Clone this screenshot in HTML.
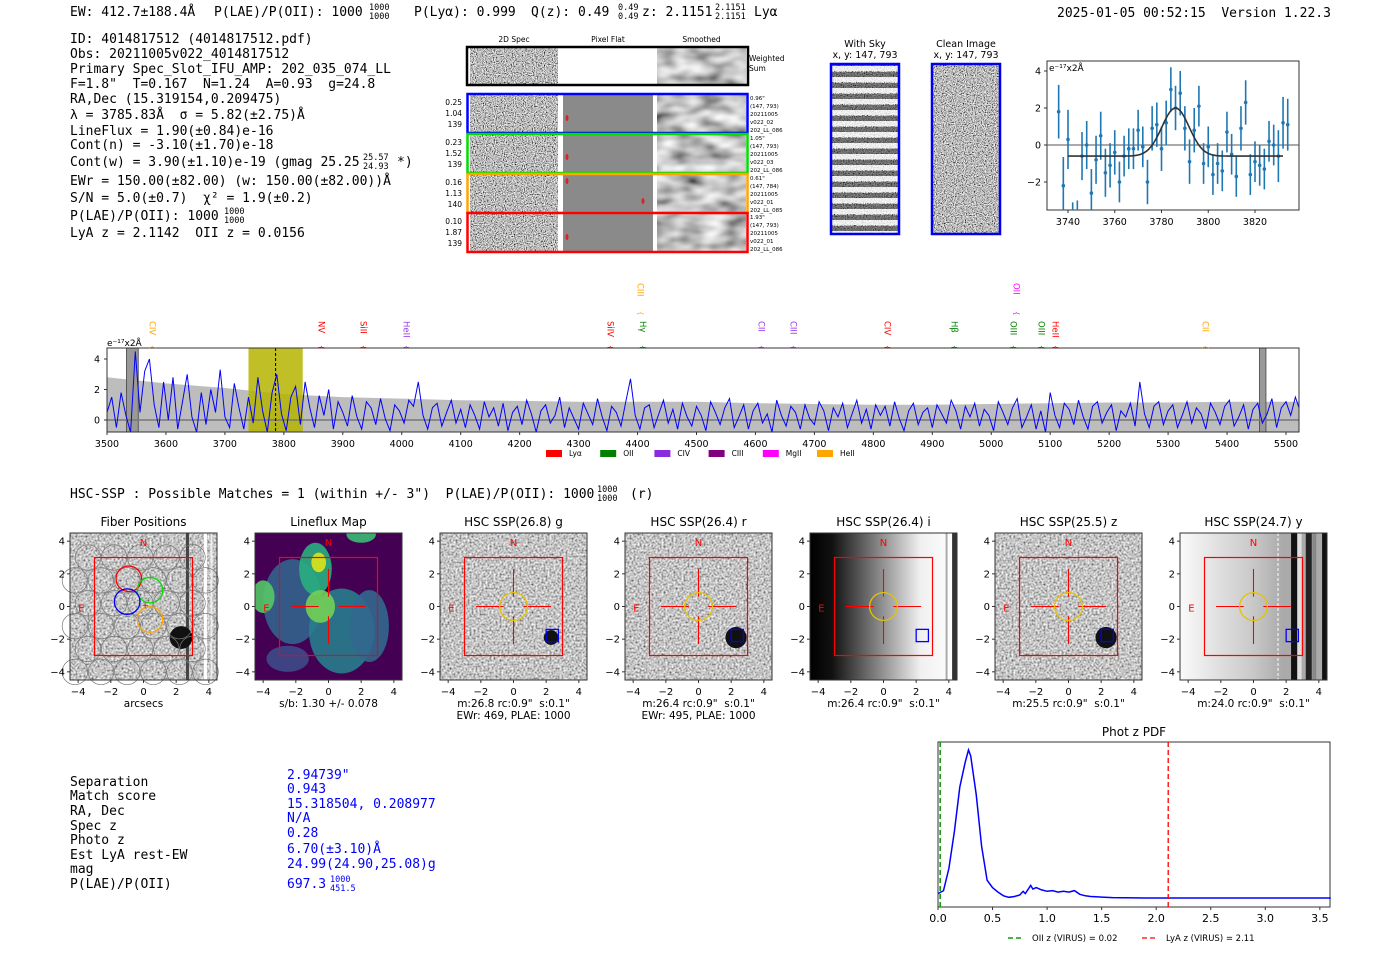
<!DOCTYPE html>
<html><head><meta charset="utf-8"><title>Detection report</title>
<style>
html,body{margin:0;padding:0;background:#fff;width:1400px;height:953px;overflow:hidden}
svg{display:block}
text{white-space:pre}
.mono{font-family:"DejaVu Sans Mono","Liberation Mono",monospace}
.sans{font-family:"DejaVu Sans","Liberation Sans",sans-serif}
</style></head>
<body>
<svg id="fig" width="1400" height="953" viewBox="0 0 1400 953" xmlns="http://www.w3.org/2000/svg" xml:space="preserve">
<defs>
<filter id="noise" x="0" y="0" width="100%" height="100%"><feTurbulence type="fractalNoise" baseFrequency="0.9" numOctaves="1" seed="4"/><feColorMatrix type="matrix" values="2.2 0 0 0 -0.6 2.2 0 0 0 -0.6 2.2 0 0 0 -0.6 0 0 0 0 1"/></filter>
<filter id="noise2" x="0" y="0" width="100%" height="100%"><feTurbulence type="fractalNoise" baseFrequency="0.5" numOctaves="1" seed="9"/><feColorMatrix type="matrix" values="1.4 0 0 0 -0.15 1.4 0 0 0 -0.15 1.4 0 0 0 -0.15 0 0 0 0 1"/></filter>
<filter id="smooth" x="0" y="0" width="100%" height="100%"><feTurbulence type="fractalNoise" baseFrequency="0.04 0.08" numOctaves="2" seed="2"/><feColorMatrix type="matrix" values="1.3 0 0 0 -0.1 1.3 0 0 0 -0.1 1.3 0 0 0 -0.1 0 0 0 0 1"/></filter>
<pattern id="sky" width="10" height="11" patternUnits="userSpaceOnUse"><rect width="10" height="5" fill="#fff" opacity="0.75"/><rect y="6" width="10" height="5" fill="#222" opacity="0.5"/></pattern>
<linearGradient id="gradI" x1="0" x2="1"><stop offset="0" stop-color="#000"/><stop offset="0.15" stop-color="#111"/><stop offset="0.75" stop-color="#f0f0f0"/><stop offset="1" stop-color="#fff"/></linearGradient>
<linearGradient id="gradY" x1="0" x2="1"><stop offset="0" stop-color="#fafafa"/><stop offset="0.5" stop-color="#c8c8c8"/><stop offset="0.7" stop-color="#aaa"/></linearGradient>
<clipPath id="clipSpec"><rect x="107" y="348" width="1192" height="84"/></clipPath>
<clipPath id="clipFit"><rect x="1047" y="61" width="252" height="149"/></clipPath>
<clipPath id="clipLF"><rect x="255" y="533" width="147" height="147"/></clipPath>
</defs>

<!-- header -->
<g class="mono" font-size="13" fill="#000">
<text x="70" y="16">EW: 412.7±188.4Å</text>
<text x="214" y="16">P(LAE)/P(OII): 1000</text>
<text x="369" y="10" font-size="8.5">1000</text>
<text x="369" y="19" font-size="8.5">1000</text>
<text x="414" y="16">P(Lyα): 0.999</text>
<text x="531" y="16">Q(z): 0.49</text>
<text x="618" y="10" font-size="8.5">0.49</text>
<text x="618" y="19" font-size="8.5">0.49</text>
<text x="642" y="16">z: 2.1151</text>
<text x="715" y="10" font-size="8.5">2.1151</text>
<text x="715" y="19" font-size="8.5">2.1151</text>
<text x="754" y="16">Lyα</text>
<text x="1057" y="17">2025-01-05 00:52:15  Version 1.22.3</text>
</g>

<!-- info block -->
<g class="mono" font-size="13" fill="#000">
<text x="70" y="43">ID: 4014817512 (4014817512.pdf)</text>
<text x="70" y="58">Obs: 20211005v022_4014817512</text>
<text x="70" y="73">Primary Spec_Slot_IFU_AMP: 202_035_074_LL</text>
<text x="70" y="88">F=1.8"  T=0.167  N=1.24  A=0.93  g=24.8</text>
<text x="70" y="103">RA,Dec (15.319154,0.209475)</text>
<text x="70" y="119">λ = 3785.83Å  σ = 5.82(±2.75)Å</text>
<text x="70" y="135">LineFlux = 1.90(±0.84)e-16</text>
<text x="70" y="149">Cont(n) = -3.10(±1.70)e-18</text>
<text x="70" y="166">Cont(w) = 3.90(±1.10)e-19 (gmag 25.25</text>
<text x="363" y="160" font-size="8.5">25.57</text>
<text x="363" y="169" font-size="8.5">24.93</text>
<text x="397" y="166">*)</text>
<text x="70" y="185">EWr = 150.00(±82.00) (w: 150.00(±82.00))Å</text>
<text x="70" y="202">S/N = 5.0(±0.7)  χ² = 1.9(±0.2)</text>
<text x="70" y="220">P(LAE)/P(OII): 1000</text>
<text x="224" y="214" font-size="8.5">1000</text>
<text x="224" y="223" font-size="8.5">1000</text>
<text x="70" y="237">LyA z = 2.1142  OII z = 0.0156</text>
</g>

<g id="g2d"></g>
<g id="gcut"></g>
<g id="gfit"></g>
<g id="gspec"></g>

<text class="mono" x="70" y="498" font-size="13">HSC-SSP : Possible Matches = 1 (within +/- 3")  P(LAE)/P(OII): 1000</text>
<text class="mono" x="597" y="492" font-size="8.5">1000</text>
<text class="mono" x="597" y="501" font-size="8.5">1000</text>
<text class="mono" x="630" y="498" font-size="13">(r)</text>

<g id="gthumb"></g>

<g class="mono" font-size="13">
<text x="70" y="786">Separation</text>
<text x="70" y="800">Match score</text>
<text x="70" y="815">RA, Dec</text>
<text x="70" y="830">Spec z</text>
<text x="70" y="844">Photo z</text>
<text x="70" y="859">Est LyA rest-EW</text>
<text x="70" y="873">mag</text>
<text x="70" y="888">P(LAE)/P(OII)</text>
<g fill="#0000ff">
<text x="287" y="779">2.94739"</text>
<text x="287" y="793">0.943</text>
<text x="287" y="808">15.318504, 0.208977</text>
<text x="287" y="822">N/A</text>
<text x="287" y="837">0.28</text>
<text x="287" y="853">6.70(±3.10)Å</text>
<text x="287" y="868">24.99(24.90,25.08)g</text>
<text x="287" y="888">697.3</text>
<text x="330" y="882" font-size="8.5">1000</text>
<text x="330" y="891" font-size="8.5">451.5</text>
</g></g>

<g id="gpdf"></g>
</svg>

<script>
// ---------- data ----------
const specStart = 3500;
const specStep = 8;
const specFlux = [
0.5,1.5,-0.5,1.8,0.3,-0.8,4.5,0.5,3.2,4.0,1.0,-0.5,2.5,0.0,2.8,-0.6,1.2,3.0,0.2,-0.8,1.8,-0.3,2.0,0.5,3.3,
0.2,-0.5,2.4,0.8,-0.6,1.5,-0.2,2.8,0.6,-0.8,1.8,3.0,0.4,-0.7,1.5,2.2,-0.3,2.5,0.8,-0.5,1.6,0.3,2.0,-0.6,1.2,
0.5,-0.4,1.6,0.2,-0.6,1.2,0.8,-0.3,1.4,0.1,-0.7,1.0,0.6,-0.2,1.3,0.9,2.5,0.3,-0.6,0.8,1.1,-0.4,0.5,1.3,-0.2,
0.7,-0.5,1.0,0.3,-0.6,1.2,0.2,0.8,-0.4,1.1,-0.7,0.5,0.9,-0.3,1.3,0.4,-0.8,0.6,1.0,-0.2,0.3,1.5,-0.5,0.8,0.1,
-0.6,1.1,0.4,-0.3,1.4,0.2,-0.7,0.9,0.5,-0.4,1.2,2.7,0.3,-0.6,0.8,1.0,-0.5,0.4,1.3,-0.2,0.7,-0.6,1.1,0.2,-0.4,
0.9,0.3,-0.7,1.2,0.5,-0.3,0.8,1.4,-0.5,0.2,1.0,-0.6,0.6,1.1,-0.2,0.4,-0.8,1.3,0.3,-0.4,0.9,0.5,-0.6,1.0,0.1,
-0.3,1.2,0.6,-0.7,0.8,0.2,1.1,-0.5,0.4,1.3,-0.2,0.7,-0.6,1.0,0.3,0.9,-0.4,1.2,0.1,-0.7,0.6,1.1,-0.3,0.5,0.8,
-0.5,1.0,0.4,-0.2,1.3,0.6,-0.6,0.9,0.2,1.1,-0.4,0.7,0.3,-0.7,1.2,0.5,-0.3,0.8,1.4,-0.5,0.2,1.0,-0.6,0.6,-0.8,
1.8,0.3,-0.5,1.1,0.7,-0.3,1.3,0.2,-0.6,0.9,1.2,-0.2,0.5,1.0,-0.7,0.6,0.2,1.1,-0.4,2.5,0.4,-0.5,0.9,1.2,-0.3,
0.6,1.0,-0.5,0.3,1.2,-0.2,0.8,0.4,-0.6,1.1,0.5,-0.3,0.9,1.3,-0.4,0.2,1.0,-0.6,0.7,1.1,-0.2,0.4,1.4,-0.5,0.8,
1.2,0.3,1.5,0.6];
const errWave = [3500,3600,3700,3800,3900,4000,4100,4200,4300,4400,4500,4600,4700,4800,4900,5000,5100,5200,5300,5400,5500,5530];
const errFlux = [2.8,2.4,2.1,1.7,1.5,1.4,1.3,1.25,1.2,1.2,1.2,1.1,1.05,1.0,1.0,1.05,1.1,1.15,1.15,1.2,1.2,1.2];
const specTicks = [3500,3600,3700,3800,3900,4000,4100,4200,4300,4400,4500,4600,4700,4800,4900,5000,5100,5200,5300,5400,5500];
const lineNames = ["CIV","NV","SiII","HeII","SiIV","CIII","Hγ","CII","CIII","CIV","Hβ","OIII","OII","OIII","HeII","CII"];
const lineWaves = [3576,3863,3934,4007,4353,4404,4408,4609,4664,4823,4937,5037,5042,5084,5108,5363];
const lineColors = ["orange","red","red","#9933ee","red","orange","green","#9933ee","#9933ee","red","green","green","magenta","green","red","orange"];
const lineHigh = [0,0,0,0,0,1,0,0,0,0,0,0,1,0,0,0];
const legendNames = ["Lyα","OII","CIV","CIII","MgII","HeII"];
const legendColors = ["red","green","#8a2be2","purple","magenta","orange"];

const fitWave = [3736,3738,3740,3742,3744,3746,3748,3750,3752,3754,3756,3758,3760,3762,3764,3766,3768,3770,3772,3774,3776,3778,3780,3782,3784,3786,3788,3790,3792,3794,3796,3798,3800,3802,3804,3806,3808,3810,3812,3814,3816,3818,3820,3822,3824,3826,3828,3830,3832,3834];
const fitFlux = [1.8,-2.2,0.3,-4.5,-4.0,-0.6,0.0,-2.6,-0.8,0.5,-1.5,-1.1,-0.4,-2.0,-0.6,-0.2,-0.2,0.8,-0.1,-2.0,0.9,1.1,-0.2,1.2,3.0,2.0,2.8,0.9,-0.9,0.8,2.1,-1.0,-0.1,-1.6,-1.0,-1.4,0.7,-0.5,-1.7,0.9,2.3,-1.6,-0.9,-1.1,-1.3,0.2,0.0,-0.6,1.2,1.1];
const fitErr = [1.45,1.55,1.6,1.4,1.0,1.3,1.3,1.3,1.3,1.3,1.3,1.2,1.2,1.1,1.1,1.1,1.1,1.1,1.1,1.2,1.2,1.2,1.2,1.2,1.2,1.2,1.2,1.2,1.2,1.2,1.1,1.1,1.1,1.1,1.1,1.1,1.1,1.1,1.1,1.2,1.2,1.1,1.1,1.1,1.1,1.1,1.1,1.4,1.4,1.4];
const fitModel = {base:-0.6, amp:2.6, mu:3786, sigma:5.82};
const fitTicksX = [3740,3760,3780,3800,3820];
const fitTicksY = [-2,0,2,4];

const pdfZ = [0,0.05,0.1,0.15,0.2,0.25,0.28,0.3,0.35,0.4,0.45,0.5,0.55,0.6,0.65,0.7,0.75,0.78,0.8,0.85,0.87,0.9,0.95,1.0,1.05,1.1,1.15,1.2,1.25,1.3,1.35,1.4,1.45,1.5,1.6,1.8,2.0,2.5,3.0,3.6];
const pdfP = [0.03,0.05,0.2,0.45,0.75,0.92,1.0,0.96,0.7,0.35,0.12,0.07,0.04,0.015,0.005,0.01,0.02,0.045,0.03,0.085,0.06,0.07,0.055,0.045,0.05,0.04,0.045,0.04,0.05,0.025,0.015,0.01,0.008,0.006,0.003,0.001,0.0,0.0,0.0,0.0];
const pdfTicks = [0.0,0.5,1.0,1.5,2.0,2.5,3.0,3.5];

// ---------- helpers ----------
const NS = 'http://www.w3.org/2000/svg';
function mk(tag, attrs, name, parent, text) {
  const el = document.createElementNS(NS, tag);
  for (const k in attrs) el.setAttribute(k, attrs[k]);
  
  
  if (text !== undefined) el.textContent = text;
  parent.appendChild(el);
  return el;
}
const SANS = '"DejaVu Sans","Liberation Sans",sans-serif';

// ---------- 2D spectra ----------
const g2d = document.getElementById('g2d');
const cols = [[470,88,'2D Spec'],[563,90,'Pixel Flat'],[657,89,'Smoothed']];
cols.forEach((c,i)=>{ mk('text',{x:c[0]+c[1]/2,y:42,'font-size':7.5,'text-anchor':'middle','font-family':SANS},'column-title',g2d,c[2]); });
function rowImgs(y,h){
  mk('rect',{x:470,y:y,width:88,height:h,fill:'#888',filter:'url(#noise)'},'spec2d-cutout',g2d);
  mk('rect',{x:657,y:y,width:89,height:h,fill:'#888',filter:'url(#smooth)'},'smoothed-cutout',g2d);
}
rowImgs(48,36);
mk('rect',{x:467,y:47,width:281,height:38,fill:'none',stroke:'#000','stroke-width':2.5},'weighted-sum-frame',g2d);
mk('text',{x:749,y:61,'font-size':7.5,'font-family':SANS},'weighted-label',g2d,'Weighted');
mk('text',{x:749,y:71,'font-size':7.5,'font-family':SANS},'sum-label',g2d,'Sum');
const rows = [[94,'#0000ff',['0.25','1.04','139'],['0.96"','(147, 793)','20211005','v022_02','202_LL_086'],[[567,118]]],
              [134,'#00dd00',['0.23','1.52','139'],['1.05"','(147, 793)','20211005','v022_03','202_LL_086'],[[567,157]]],
              [174,'orange',['0.16','1.13','140'],['0.61"','(147, 784)','20211005','v022_01','202_LL_085'],[[567,181],[643,201]]],
              [213,'red',['0.10','1.87','139'],['1.93"','(147, 793)','20211005','v022_01','202_LL_086'],[[567,237]]]];
rows.forEach(r=>{
  const y=r[0];
  rowImgs(y+1,38);
  mk('rect',{x:563,y:y+1,width:90,height:38,fill:'#8a8a8a'},'pixel-flat',g2d);
  mk('rect',{x:559,y:y+1,width:4,height:38,fill:'#fff'},'divider',g2d);
  mk('rect',{x:653,y:y+1,width:4,height:38,fill:'#fff'},'divider',g2d);
  r[4].forEach(p=>mk('ellipse',{cx:p[0],cy:p[1],rx:1.5,ry:3,fill:'#d22'},'hot-pixel',g2d));
  mk('rect',{x:467.5,y:y,width:280,height:39,fill:'none',stroke:r[1],'stroke-width':2.5},'fiber-row-frame',g2d);
  r[2].forEach((t,i)=>mk('text',{x:462,y:y+11+i*11,'font-size':7.5,'text-anchor':'end','font-family':SANS},'fiber-row-stat',g2d,t));
  r[3].forEach((t,i)=>mk('text',{x:750,y:y+6+i*8,'font-size':5.5,'font-family':SANS},'fiber-row-info',g2d,t));
});

// ---------- cutouts ----------
const gc = document.getElementById('gcut');
[[831,'With Sky'],[932,'Clean Image']].forEach((c,i)=>{
  mk('text',{x:c[0]+34,y:47,'font-size':9.5,'text-anchor':'middle','font-family':SANS},'cutout-title',gc,c[1]);
  mk('text',{x:c[0]+34,y:58,'font-size':9.5,'text-anchor':'middle','font-family':SANS},'cutout-coords',gc,'x, y: 147, 793');
  mk('rect',{x:c[0],y:64,width:68,height:170,fill:'#777',filter:'url(#noise)'},'cutout-image',gc);
  if(i===0) mk('rect',{x:c[0],y:64,width:68,height:170,fill:'url(#sky)'},'sky-stripes',gc);
  mk('rect',{x:c[0],y:64,width:68,height:170,fill:'none',stroke:'#0000ee','stroke-width':2.5},'cutout-frame',gc);
});

// ---------- fit plot ----------
const gf = document.getElementById('gfit');
const fx = w => 1068 + (w-3740)*2.3375;
const fy = v => 145 - v*18.5;
mk('rect',{x:1047,y:61,width:252,height:149,fill:'#fff',stroke:'#333','stroke-width':1},'fit-axes',gf);
const fc = mk('g',{'clip-path':'url(#clipFit)'},'fit-marks',gf);
mk('line',{x1:1047,x2:1299,y1:fy(0),y2:fy(0),stroke:'#555','stroke-width':1},'zero-line',fc);
fitWave.forEach((w,i)=>{
  mk('line',{x1:fx(w),x2:fx(w),y1:fy(fitFlux[i]-fitErr[i]),y2:fy(fitFlux[i]+fitErr[i]),stroke:'#1f77b4','stroke-width':1.6},'fit-errorbar',fc);
  mk('circle',{cx:fx(w),cy:fy(fitFlux[i]),r:1.8,fill:'#1f77b4'},'fit-point',fc);
});
let mp='';
for(let w=3740; w<=3832; w+=0.5){const v=fitModel.base+fitModel.amp*Math.exp(-0.5*Math.pow((w-fitModel.mu)/fitModel.sigma,2));mp+=(mp?'L':'M')+fx(w).toFixed(1)+','+fy(v).toFixed(1);}
mk('path',{d:mp,fill:'none',stroke:'#333','stroke-width':1.6},'gaussian-fit',fc);
fitTicksX.forEach(t=>{mk('line',{x1:fx(t),x2:fx(t),y1:210,y2:213,stroke:'#333'},'fit-x-tick',gf);mk('text',{x:fx(t),y:225,'font-size':9.5,'text-anchor':'middle','font-family':SANS},'fit-x-label',gf,String(t));});
fitTicksY.forEach(t=>{mk('line',{x1:1044,x2:1047,y1:fy(t),y2:fy(t),stroke:'#333'},'fit-y-tick',gf);mk('text',{x:1041,y:fy(t)+3.5,'font-size':9.5,'text-anchor':'end','font-family':SANS},'fit-y-label',gf,t<0?'−'+(-t):String(t));});
mk('text',{x:1049,y:71,'font-size':9,'font-family':SANS},'fit-unit-label',gf,'e⁻¹⁷x2Å');

// ---------- full spectrum ----------
const gs = document.getElementById('gspec');
const sx = w => 107 + (w-3500)*0.5895;
const sy = v => 420 - v*15.25;
mk('rect',{x:107,y:348,width:1192,height:84,fill:'#fff'},'spectrum-bg',gs);
const sc = mk('g',{'clip-path':'url(#clipSpec)'},'spectrum-marks',gs);
let ep='M'+sx(errWave[0])+','+sy(errFlux[0]);
errWave.forEach((w,i)=>{ep+='L'+sx(w).toFixed(1)+','+sy(errFlux[i]).toFixed(1);});
for(let i=errWave.length-1;i>=0;i--) ep+='L'+sx(errWave[i]).toFixed(1)+','+sy(-errFlux[i]).toFixed(1);
mk('path',{d:ep+'Z',fill:'#bdbdbd'},'error-band',sc);
mk('rect',{x:sx(3740),y:348,width:sx(3832)-sx(3740),height:84,fill:'#b5b500',opacity:0.85},'detection-window',sc);
mk('rect',{x:sx(3533),y:348,width:sx(3553)-sx(3533),height:84,fill:'#999',stroke:'#444','stroke-width':0.8},'masked-region',sc);
mk('rect',{x:sx(5455),y:348,width:sx(5466)-sx(5455),height:84,fill:'#999',stroke:'#444','stroke-width':0.8},'masked-region',sc);
mk('line',{x1:107,x2:1299,y1:sy(0),y2:sy(0),stroke:'#777','stroke-width':1.5},'zero-line',sc);
let sp='';
specFlux.forEach((v,i)=>{sp+=(i?'L':'M')+sx(specStart+i*specStep).toFixed(1)+','+sy(v).toFixed(1);});
mk('path',{d:sp,fill:'none',stroke:'#0000ff','stroke-width':1},'spectrum-line',sc);
mk('line',{x1:sx(3786),x2:sx(3786),y1:348,y2:432,stroke:'#000','stroke-width':1,'stroke-dasharray':'3,2'},'line-center-marker',sc);
mk('rect',{x:107,y:348,width:1192,height:84,fill:'none',stroke:'#333','stroke-width':1},'spectrum-axes',gs);
specTicks.forEach(t=>{mk('line',{x1:sx(t),x2:sx(t),y1:432,y2:435,stroke:'#333'},'spec-x-tick',gs);mk('text',{x:sx(t),y:447,'font-size':9.5,'text-anchor':'middle','font-family':SANS},'spec-x-label',gs,String(t));});
[0,2,4].forEach(t=>{mk('line',{x1:104,x2:107,y1:sy(t),y2:sy(t),stroke:'#333'},'spec-y-tick',gs);mk('text',{x:100,y:sy(t)+3.5,'font-size':9.5,'text-anchor':'end','font-family':SANS},'spec-y-label',gs,String(t));});
mk('text',{x:107,y:346,'font-size':9,'font-family':SANS},'spec-unit-label',gs,'e⁻¹⁷x2Å');
lineNames.forEach((n,i)=>{
  const x=sx(lineWaves[i]); const ytop = lineHigh[i]?283:321;
  mk('text',{x:x,y:ytop,'font-size':8.5,fill:lineColors[i],'font-family':SANS,transform:'rotate(90 '+x+' '+ytop+')','dominant-baseline':'middle'},'emission-line-label',gs,n);
  mk('text',{x:x,y:ytop+(lineHigh[i]?28:24),'font-size':7,fill:lineColors[i],'font-family':SANS,transform:'rotate(90 '+x+' '+(ytop+(lineHigh[i]?28:24))+')','dominant-baseline':'middle'},'emission-line-bracket',gs,'{');
});
legendNames.forEach((n,i)=>{
  const x=547+i*54.2;
  mk('rect',{x:x-1,y:450,width:16,height:7,fill:legendColors[i]},'legend-swatch',gs);
  mk('text',{x:x+22,y:456,'font-size':7.5,'font-family':SANS},'legend-entry',gs,n);
});

// ---------- thumbnails ----------
const gt = document.getElementById('gthumb');
const thumbX = [70,255,440,625,810,995,1180];
const thumbTitles = ['Fiber Positions','Lineflux Map','HSC SSP(26.8) g','HSC SSP(26.4) r','HSC SSP(26.4) i','HSC SSP(25.5) z','HSC SSP(24.7) y'];
const thumbSub = [['arcsecs'],['s/b: 1.30 +/- 0.078'],['m:26.8 rc:0.9"  s:0.1"','EWr: 469, PLAE: 1000'],['m:26.4 rc:0.9"  s:0.1"','EWr: 495, PLAE: 1000'],['m:26.4 rc:0.9"  s:0.1"'],['m:25.5 rc:0.9"  s:0.1"'],['m:24.0 rc:0.9"  s:0.1"']];
const TW=147, TT=533, TH=147;
thumbX.forEach((x0,p)=>{
  const ax = a => x0 + (a+4.5)*TW/9;
  const ay = a => TT + (4.5-a)*TH/9;
  const g = mk('g',{},'thumbnail-panel',gt);
  mk('text',{x:x0+TW/2,y:526,'font-size':12,'text-anchor':'middle','font-family':SANS},'thumbnail-title',g,thumbTitles[p]);
  if(p===1){
    mk('rect',{x:x0,y:TT,width:TW,height:TH,fill:'#440154'},'lineflux-bg',g);
    const lg = mk('g',{'clip-path':'url(#clipLF)'},'lineflux-layer',g);
    const blobs=[[-2.2,0.3,1.8,2.6,'#33638d'],[0.8,-1.5,2.0,2.6,'#287d8e'],[-0.8,2.3,1.0,1.6,'#29af7f'],[-0.6,2.7,0.45,0.6,'#dde318'],[-0.5,0,0.9,1.0,'#73d055'],[-4,0.6,0.7,1.0,'#55c667'],[2.5,-1.2,1.2,2.2,'#31688e'],[2.0,4.4,0.9,0.5,'#3cbb75'],[-2.5,-3.2,1.3,0.8,'#3e4a89']];
    blobs.forEach(b=>mk('ellipse',{cx:ax(b[0]),cy:ay(b[1]),rx:b[2]*TW/9,ry:b[3]*TH/9,fill:b[4],opacity:0.9},'lineflux-blob',lg));
  } else if(p===4){
    mk('rect',{x:x0,y:TT,width:TW,height:TH,fill:'url(#gradI)'},'image-i',g);
    mk('rect',{x:ax(3.8),y:TT,width:2,height:TH,fill:'#aaa'},'edge-stripe',g);
    mk('rect',{x:ax(4.2),y:TT,width:5,height:TH,fill:'#333'},'edge-stripe',g);
  } else if(p===6){
    mk('rect',{x:x0,y:TT,width:TW,height:TH,fill:'url(#gradY)'},'image-y',g);
    mk('line',{x1:ax(1.5),x2:ax(1.5),y1:TT,y2:TT+TH,stroke:'#fff','stroke-dasharray':'3,2'},'edge-dashed',g);
    mk('rect',{x:ax(2.3),y:TT,width:6,height:TH,fill:'#111'},'edge-stripe',g);
    mk('rect',{x:ax(2.7),y:TT,width:4,height:TH,fill:'#ddd'},'edge-stripe',g);
    mk('rect',{x:ax(3.2),y:TT,width:6,height:TH,fill:'#222'},'edge-stripe',g);
    mk('rect',{x:ax(3.6),y:TT,width:4,height:TH,fill:'#888'},'edge-stripe',g);
    mk('rect',{x:ax(4.2),y:TT,width:5,height:TH,fill:'#111'},'edge-stripe',g);
  } else {
    mk('rect',{x:x0,y:TT,width:TW,height:TH,fill:'#888',filter:'url(#noise2)'},'image-noise',g);
    if(p===0){
      mk('rect',{x:ax(2.6),y:TT,width:3,height:TH,fill:'#444'},'edge-stripe',g);
      mk('rect',{x:ax(3.7),y:TT,width:3,height:TH,fill:'#fff'},'edge-stripe',g);
      mk('rect',{x:ax(4.1),y:TT,width:2,height:TH,fill:'#eee'},'edge-stripe',g);
    }
    if(p===0||p===2||p===3||p===5){
      const rr = p===2?0.45:(p===0?0.7:0.65);
      mk('ellipse',{cx:ax(2.3),cy:ay(-1.9),rx:rr*TW/9,ry:rr*TH/9,fill:'#111'},'neighbor-source',g);
    }
  }
  if(p===0){
    for(let j=-3;j<=3;j++){for(let i=-3;i<=3;i++){
      const cx=i*1.6+(j%2?0.8:0)-0.2, cy=j*1.4+0.2;
      if(Math.abs(cx)<4.3&&Math.abs(cy)<4.3) mk('ellipse',{cx:ax(cx),cy:ay(cy),rx:0.78*TW/9,ry:0.78*TH/9,fill:'none',stroke:'#777','stroke-width':0.7},'fiber-outline',g);
    }}
    [[-0.9,1.7,'red'],[0.4,1.0,'#00dd00'],[-1.0,0.3,'blue'],[0.4,-0.8,'orange']].forEach(f=>mk('ellipse',{cx:ax(f[0]),cy:ay(f[1]),rx:0.78*TW/9,ry:0.78*TH/9,fill:'none',stroke:f[2],'stroke-width':1.3},'fiber-highlight',g));
    mk('text',{x:ax(0.1),y:ay(-0.1),'font-size':9,fill:'red','font-family':SANS,'text-anchor':'middle'},'fiber-center-mark',g,'+');
  }
  mk('rect',{x:ax(-3),y:ay(3),width:ax(3)-ax(-3),height:ay(-3)-ay(3),fill:'none',stroke:'red','stroke-width':1.2},'aperture-box',g);
  if(p>=1){
    [[-2.3,0,-0.6,0],[0.6,0,2.3,0],[0,2.3,0,0.6],[0,-0.6,0,-2.3]].forEach(l=>mk('line',{x1:ax(l[0]),y1:ay(l[1]),x2:ax(l[2]),y2:ay(l[3]),stroke:'red','stroke-width':1.1},'crosshair',g));
  }
  if(p>=2){
    mk('ellipse',{cx:ax(0),cy:ay(0),rx:0.85*TW/9,ry:0.85*TH/9,fill:'none',stroke:'#e6c200','stroke-width':1.3},'search-circle',g);
    mk('rect',{x:ax(2),y:ay(-1.4),width:0.75*TW/9,height:0.75*TH/9,fill:'none',stroke:'blue','stroke-width':1.3},'match-box',g);
  }
  mk('text',{x:ax(0),y:ay(3.7),'font-size':10,fill:'red','text-anchor':'middle','font-family':SANS},'north-label',g,'N');
  mk('text',{x:ax(-3.8),y:ay(-0.3),'font-size':10,fill:'red','text-anchor':'middle','font-family':SANS},'east-label',g,'E');
  mk('rect',{x:x0,y:TT,width:TW,height:TH,fill:'none',stroke:'#333','stroke-width':1},'thumbnail-axes',g);
  [-4,-2,0,2,4].forEach(t=>{
    const lab = t<0?'−'+(-t):String(t);
    mk('line',{x1:ax(t),x2:ax(t),y1:TT+TH,y2:TT+TH+3,stroke:'#333'},'x-tick',g);
    mk('text',{x:ax(t),y:TT+TH+15,'font-size':10,'text-anchor':'middle','font-family':SANS},'x-tick-label',g,lab);
    mk('line',{x1:x0-3,x2:x0,y1:ay(t),y2:ay(t),stroke:'#333'},'y-tick',g);
    mk('text',{x:x0-5,y:ay(t)+3.5,'font-size':10,'text-anchor':'end','font-family':SANS},'y-tick-label',g,lab);
  });
  thumbSub[p].forEach((s,i)=>mk('text',{x:x0+TW/2,y:707+i*12,'font-size':10.5,'text-anchor':'middle','font-family':SANS},'thumbnail-caption',g,s));
});

// ---------- phot z pdf ----------
const gp = document.getElementById('gpdf');
const px = z => 938 + z*109.1;
const py = v => 898 - v*148;
mk('text',{x:1134,y:736,'font-size':12,'text-anchor':'middle','font-family':SANS},'pdf-title',gp,'Phot z PDF');
mk('rect',{x:938,y:742,width:392,height:165,fill:'#fff',stroke:'#333'},'pdf-axes',gp);
let pp='';
pdfZ.forEach((z,i)=>{pp+=(i?'L':'M')+px(z).toFixed(1)+','+py(pdfP[i]).toFixed(1);});
mk('path',{d:pp,fill:'none',stroke:'#0000ff','stroke-width':1.5},'pdf-curve',gp);
mk('line',{x1:px(0.02),x2:px(0.02),y1:742,y2:907,stroke:'#119911','stroke-width':1.6,'stroke-dasharray':'5,3'},'oii-z-line',gp);
mk('line',{x1:px(2.11),x2:px(2.11),y1:742,y2:907,stroke:'red','stroke-width':1.3,'stroke-dasharray':'5,3'},'lya-z-line',gp);
pdfTicks.forEach(t=>{mk('line',{x1:px(t),x2:px(t),y1:907,y2:910,stroke:'#333'},'pdf-x-tick',gp);mk('text',{x:px(t),y:922,'font-size':11,'text-anchor':'middle','font-family':SANS},'pdf-x-label',gp,t.toFixed(1));});
mk('line',{x1:1008,x2:1024,y1:938,y2:938,stroke:'#119911','stroke-width':1.6,'stroke-dasharray':'5,3'},'legend-oii-swatch',gp);
mk('text',{x:1032,y:941,'font-size':8.5,'font-family':SANS},'legend-oii',gp,'OII z (VIRUS) = 0.02');
mk('line',{x1:1142,x2:1158,y1:938,y2:938,stroke:'red','stroke-width':1.3,'stroke-dasharray':'5,3'},'legend-lya-swatch',gp);
mk('text',{x:1166,y:941,'font-size':8.5,'font-family':SANS},'legend-lya',gp,'LyA z (VIRUS) = 2.11');
</script>
</body></html>
